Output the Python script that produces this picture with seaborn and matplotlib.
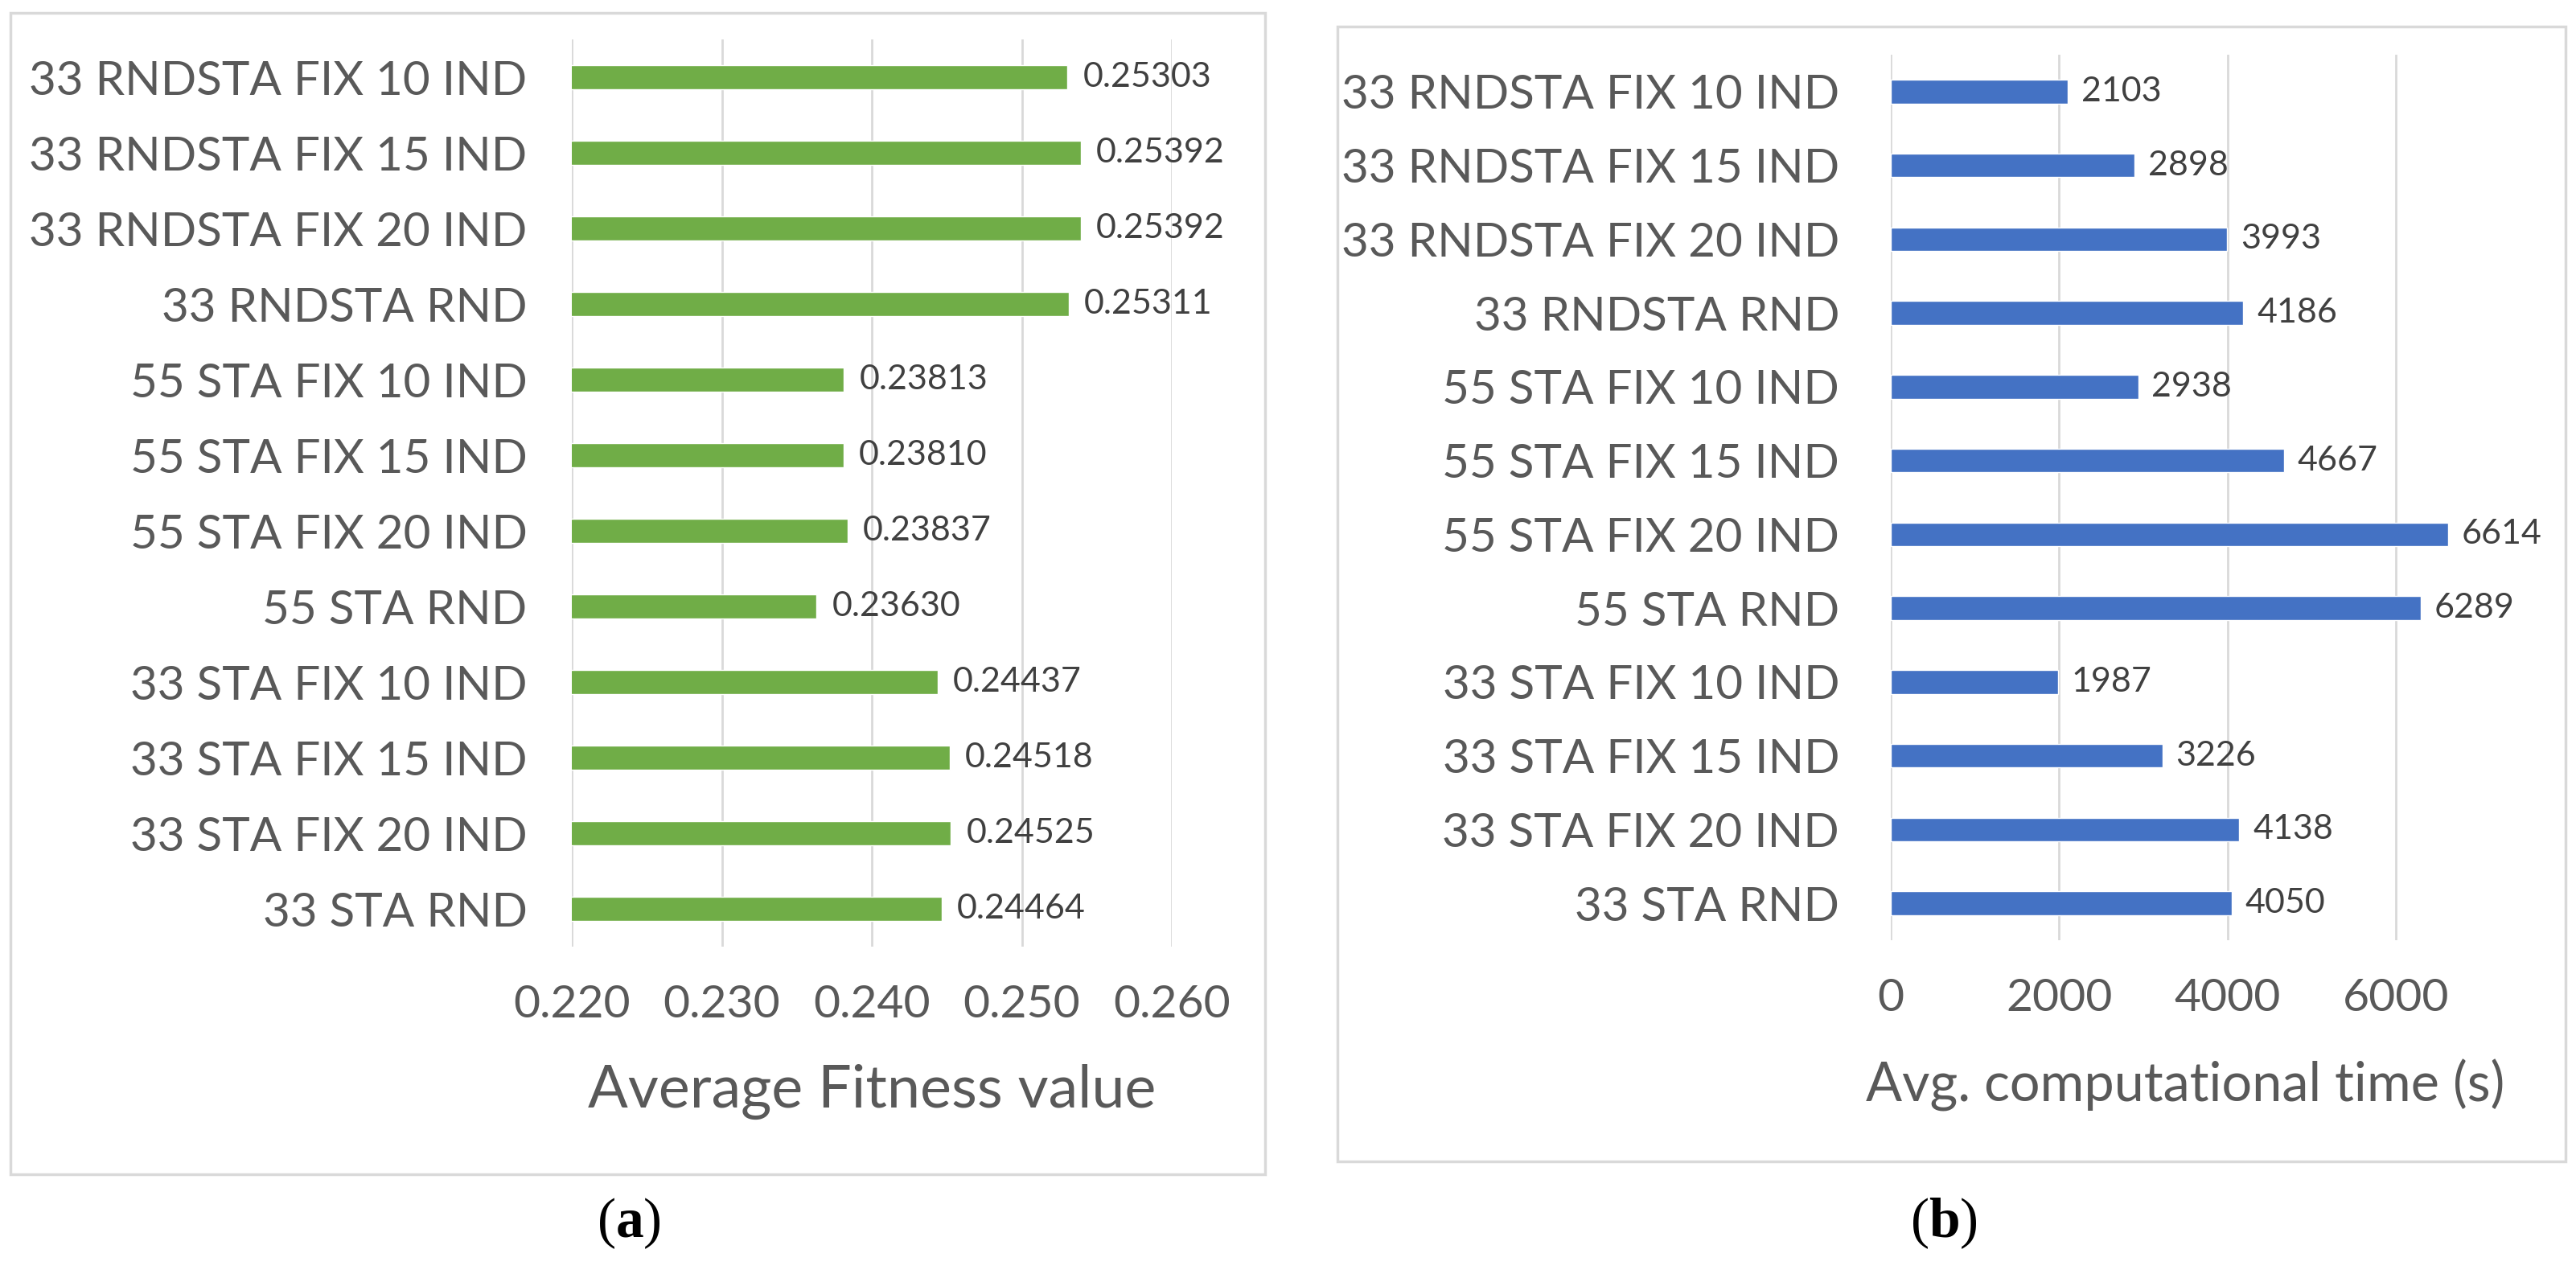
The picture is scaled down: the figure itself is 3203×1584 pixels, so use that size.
import matplotlib
matplotlib.use("Agg")
import matplotlib.pyplot as plt
import seaborn as sns
from matplotlib.patches import Rectangle

# data (top to bottom)
categories = [
    "33 RNDSTA FIX 10 IND", "33 RNDSTA FIX 15 IND", "33 RNDSTA FIX 20 IND",
    "33 RNDSTA RND", "55 STA FIX 10 IND", "55 STA FIX 15 IND",
    "55 STA FIX 20 IND", "55 STA RND", "33 STA FIX 10 IND",
    "33 STA FIX 15 IND", "33 STA FIX 20 IND", "33 STA RND",
]
fitness = [0.25303, 0.25392, 0.25392, 0.25311, 0.23813, 0.23810,
           0.23837, 0.23630, 0.24437, 0.24518, 0.24525, 0.24464]
comp_time = [2103, 2898, 3993, 4186, 2938, 4667, 6614, 6289, 1987, 3226, 4138, 4050]
fitness_ticks = [0.220, 0.230, 0.240, 0.250, 0.260]
time_ticks = [0, 2000, 4000, 6000]

sns.set_theme(style="white")
plt.rcParams['font.family'] = ['Lato', 'DejaVu Sans']
plt.rcParams['mathtext.fontset'] = 'custom'
plt.rcParams['mathtext.rm'] = 'Liberation Serif'
plt.rcParams['mathtext.bf'] = 'Liberation Serif:bold'

TXT = '#595959'
GRID = '#D9D9D9'
W, H = 3203, 1584

fig = plt.figure(figsize=(W / 100, H / 100), dpi=100)
fig.patch.set_facecolor('white')

# panel frames (like the Excel chart area borders)
fig.add_artist(Rectangle((13 / W, 1 - 1460 / H), (1573 - 13) / W, (1460 - 16) / H,
                         transform=fig.transFigure, fill=False, edgecolor=GRID, lw=2.5))
fig.add_artist(Rectangle((1663 / W, 1 - 1444 / H), (3190 - 1663) / W, (1444 - 33) / H,
                         transform=fig.transFigure, fill=False, edgecolor=GRID, lw=2.5))

ax1 = fig.add_axes([711 / W, 1 - 1177 / H, 746 / W, 1128 / H])
ax2 = fig.add_axes([2351 / W, 1 - 1169 / H, 733 / W, 1101 / H])


def style_axis(ax, ticks, xlabel, label_pad, xlabel_size, xlabel_pad):
    ax.set_xticks(ticks)
    ax.grid(axis='x', color=GRID, lw=2)
    ax.grid(axis='y', visible=False)
    for s in ax.spines.values():
        s.set_visible(False)
    ax.tick_params(axis='y', length=0, labelsize=42, colors=TXT, pad=label_pad)
    ax.tick_params(axis='x', length=0, labelsize=41, colors=TXT, pad=34)
    ax.set_ylabel('')
    ax.set_xlabel(xlabel, fontsize=xlabel_size, color=TXT, labelpad=xlabel_pad)
    ax.set_facecolor('none')


sns.barplot(x=fitness, y=categories, orient='h', color='#70AD47', saturation=1,
            width=0.32, ax=ax1)
ax1.set_xlim(0.22, 0.26)
style_axis(ax1, fitness_ticks, 'Average Fitness value', 40, 53, 34)
ax1.set_xticklabels([f"{t:.3f}" for t in fitness_ticks])
ax1.bar_label(ax1.containers[0], labels=[f"{v:.5f}" for v in fitness],
              padding=14, fontsize=31, color='#404040')

sns.barplot(x=comp_time, y=categories, orient='h', color='#4472C4', saturation=1,
            width=0.32, ax=ax2)
ax2.set_xlim(0, 7000)
style_axis(ax2, time_ticks, 'Avg. computational time (s)', 46, 48, 36)
ax2.set_xticklabels([str(t) for t in time_ticks])
ax2.bar_label(ax2.containers[0], labels=[str(v) for v in comp_time],
              padding=12, fontsize=31, color='#404040')

fig.text(782 / W, 1 - 1521 / H, r'$\mathrm{(}\mathbf{a}\mathrm{)}$', fontsize=50,
         ha='center', va='center', color='black')
fig.text(2417 / W, 1 - 1521 / H, r'$\mathrm{(}\mathbf{b}\mathrm{)}$', fontsize=50,
         ha='center', va='center', color='black')

fig.savefig('out.png', dpi=100, facecolor='white')
